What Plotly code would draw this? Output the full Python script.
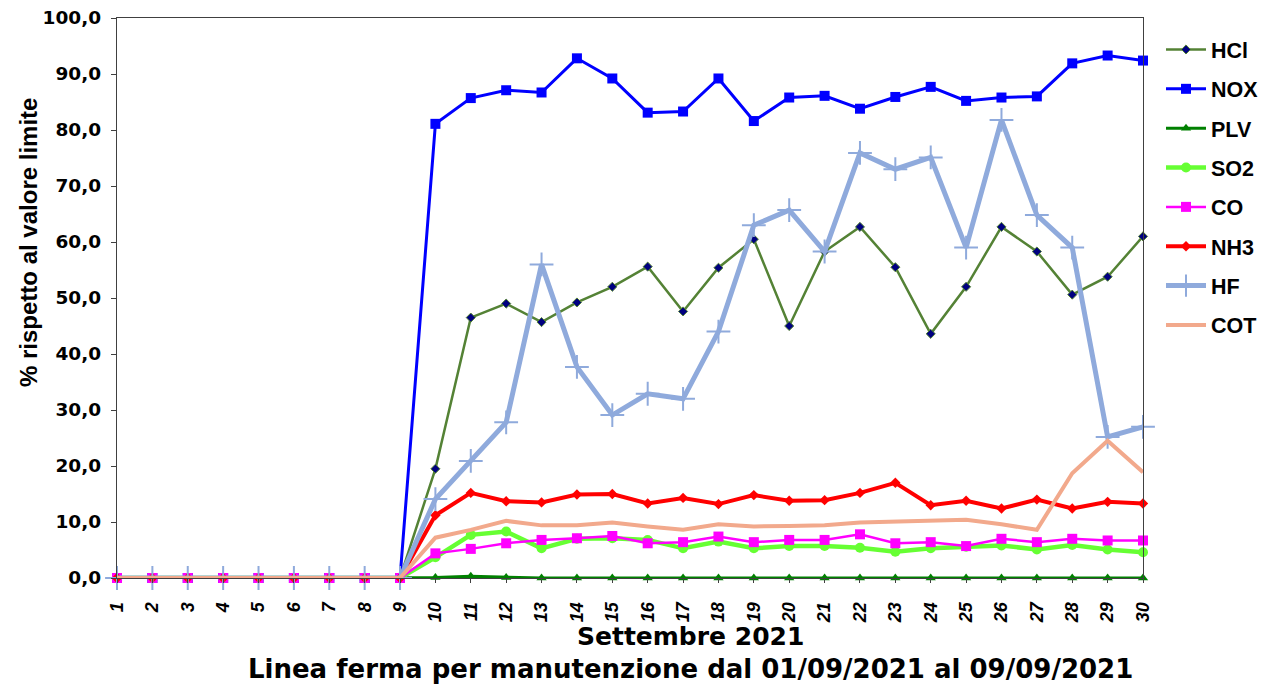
import plotly.graph_objects as go

days = list(range(1, 31))
zeros9 = [0.0] * 9

hcl = zeros9 + [19.5, 46.5, 49.0, 45.7, 49.2, 52.0, 55.6, 47.6, 55.4, 60.5,
                45.0, 58.3, 62.7, 55.5, 43.6, 52.0, 62.7, 58.3, 50.6, 53.8, 61.0]
nox = zeros9 + [81.1, 85.7, 87.1, 86.7, 92.8, 89.2, 83.1, 83.3, 89.2, 81.6,
                85.8, 86.1, 83.8, 85.9, 87.7, 85.2, 85.8, 86.0, 91.9, 93.3, 92.4]
plv = zeros9 + [0.1, 0.3, 0.1, 0.0, 0.0, 0.0, 0.0, 0.0, 0.0, 0.0,
                0.0, 0.0, 0.0, 0.0, 0.0, 0.0, 0.0, 0.0, 0.0, 0.0, 0.0]
so2 = zeros9 + [3.7, 7.7, 8.3, 5.3, 7.0, 7.1, 6.8, 5.3, 6.5, 5.3,
                5.7, 5.7, 5.4, 4.7, 5.3, 5.6, 5.8, 5.1, 5.9, 5.1, 4.6]
co = zeros9 + [4.4, 5.2, 6.2, 6.8, 7.1, 7.5, 6.2, 6.4, 7.4, 6.4,
               6.8, 6.8, 7.8, 6.2, 6.4, 5.7, 7.0, 6.4, 7.0, 6.7, 6.7]
nh3 = zeros9 + [11.2, 15.2, 13.7, 13.5, 14.9, 15.0, 13.3, 14.3, 13.2, 14.8,
                13.8, 13.9, 15.2, 17.0, 13.0, 13.8, 12.4, 14.0, 12.4, 13.6, 13.3]
hf = zeros9 + [14.1, 20.9, 27.8, 56.0, 37.7, 29.1, 32.9, 32.0, 44.0, 63.0,
               65.7, 58.3, 75.9, 73.0, 75.1, 59.0, 81.8, 64.8, 59.0, 25.2, 27.0]
cot = zeros9 + [7.2, 8.6, 10.2, 9.4, 9.4, 9.9, 9.2, 8.6, 9.6, 9.2,
                9.3, 9.4, 9.9, 10.1, 10.2, 10.4, 9.6, 8.6, 18.7, 24.5, 18.9]

tick_labels = [str(d) for d in days]

series = [
    ("HCl", hcl, dict(color="#548235", width=2.5),
     dict(symbol="diamond", size=7, color="#00007F", line=dict(color="#548235", width=1))),
    ("NOX", nox, dict(color="#0000FF", width=3),
     dict(symbol="square", size=10, color="#0000FF")),
    ("PLV", plv, dict(color="#008000", width=3),
     dict(symbol="triangle-up", size=9, color="#008000")),
    ("SO2", so2, dict(color="#66FF33", width=4.5),
     dict(symbol="circle", size=10, color="#66FF33")),
    ("CO", co, dict(color="#FF00FF", width=2.5),
     dict(symbol="square", size=10, color="#FF00FF")),
    ("NH3", nh3, dict(color="#FF0000", width=4),
     dict(symbol="diamond", size=8, color="#FF0000")),
    ("HF", hf, dict(color="#8FAADC", width=5),
     dict(symbol="cross-thin", size=17, color="#8FAADC", line=dict(color="#8FAADC", width=2))),
    ("COT", cot, dict(color="#F2A98C", width=4), None),
]

fig = go.Figure()
for name, vals, line, marker in series:
    kw = dict(x=days, y=vals, name=name, line=line, legendgroup=name, cliponaxis=False)
    if marker is None:
        kw["mode"] = "lines"
    else:
        kw["mode"] = "lines+markers"
        kw["marker"] = marker
    fig.add_trace(go.Scatter(**kw))

# page body has an 8px margin; figure sized so plot area lands at window x 117..1143, y 18..578
OFF = 8
W, H = 1255, 682
PX0, PX1, PY0, PY1 = 117, 1143, 18, 578
L, T = PX0 - OFF, PY0 - OFF
pw, ph = PX1 - PX0, PY1 - PY0
R = W - L - pw
B = H - T - ph


def px(xw):
    return (xw - PX0) / pw


def py(yw):
    return (PY1 - yw) / ph


fig.update_layout(
    width=W, height=H,
    margin=dict(l=L, r=R, t=T, b=B, autoexpand=False),
    plot_bgcolor="white", paper_bgcolor="white",
    separators=",.",
    showlegend=True,
    legend=dict(
        x=px(1161), y=py(29), xanchor="left", yanchor="top",
        font=dict(family="Liberation Sans", size=21.5, color="black", weight="bold"),
        tracegroupgap=8.4, traceorder="grouped",
        bgcolor="rgba(0,0,0,0)", itemwidth=40,
    ),
    xaxis=dict(
        range=[1, 30], tickmode="array", tickvals=days, ticktext=tick_labels,
        tickangle=-90, showgrid=False, zeroline=False,
        showline=True, linecolor="#404040", linewidth=1.3, mirror=True,
        ticks="outside", ticklen=4, tickcolor="#404040", ticklabelstandoff=12,
        ticklabeloverflow="allow",
        tickfont=dict(family="Liberation Sans", size=18, color="black",
                      weight="bold", style="italic"),
    ),
    yaxis=dict(
        range=[0, 100], dtick=10, tickformat=".1f", showgrid=False, zeroline=False,
        showline=True, linecolor="#404040", linewidth=1.3, mirror=True,
        ticks="outside", ticklen=5, tickcolor="#404040", ticklabelstandoff=6,
        ticklabeloverflow="allow",
        tickfont=dict(family="DejaVu Sans", size=18.5, color="black", weight="bold"),
    ),
    annotations=[
        dict(text="% rispetto al valore limite", textangle=-90,
             x=px(28), y=py(243), xref="paper", yref="paper",
             xanchor="center", yanchor="middle", showarrow=False,
             font=dict(family="Liberation Sans", size=24, color="black", weight="bold")),
        dict(text="Settembre 2021",
             x=px(690), y=py(636), xref="paper", yref="paper",
             xanchor="center", yanchor="middle", showarrow=False,
             font=dict(family="DejaVu Sans", size=25, color="black", weight="bold")),
        dict(text="Linea ferma per manutenzione dal 01/09/2021 al 09/09/2021",
             x=px(690), y=py(669), xref="paper", yref="paper",
             xanchor="center", yanchor="middle", showarrow=False,
             font=dict(family="DejaVu Sans", size=26, color="black", weight="bold")),
    ],
)

fig.write_html("out.html")
